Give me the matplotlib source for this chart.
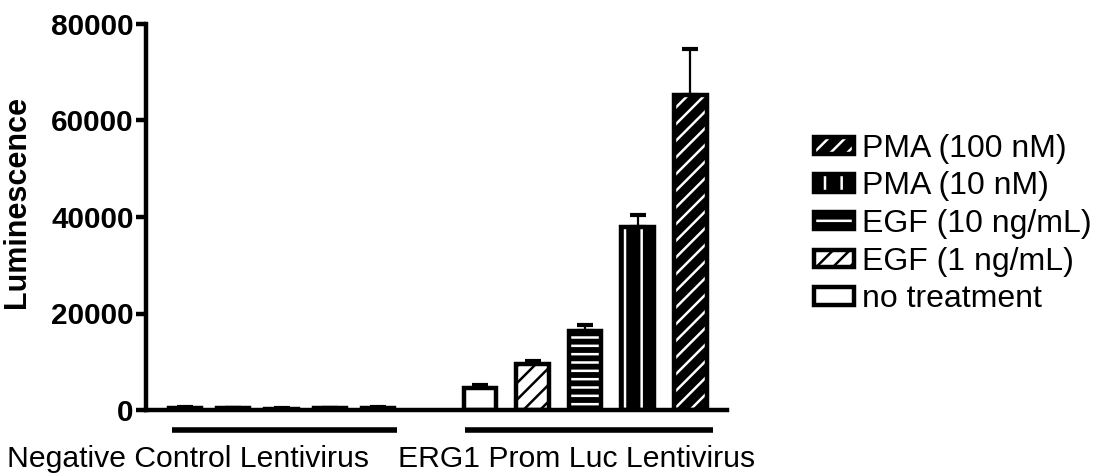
import numpy as np
import matplotlib
matplotlib.use("Agg")
import matplotlib.pyplot as plt
import matplotlib.transforms as mtransforms

plt.rcParams["font.family"] = ["Liberation Sans", "DejaVu Sans"]
plt.rcParams["hatch.linewidth"] = 1.8

treatments = ["no treatment", "EGF (1 ng/mL)", "EGF (10 ng/mL)", "PMA (10 nM)", "PMA (100 nM)"]
groups = ["Negative Control Lentivirus", "ERG1 Prom Luc Lentivirus"]

neg_vals = [450, 380, 300, 350, 400]
neg_err = [150, 120, 100, 100, 120]
erg_vals = [4550, 9500, 16400, 37900, 65200]
erg_err = [650, 700, 1200, 2500, 9700]

# style per treatment: (face, hatch, hatch colour)
styles = [
    ("white", None, "black"),
    ("white", "//", "black"),
    ("black", "--", "white"),
    ("black", "|", "white"),
    ("black", "//", "white"),
]

neg_x = np.arange(5) * 0.92 + 0.38
erg_x = np.arange(5) + 6.0
width = 0.62

fig = plt.figure(figsize=(11.04, 4.74), dpi=100)
ax = fig.add_axes([146 / 1104, 1 - 410 / 474, 581 / 1104, 386 / 474])

handles = []
for i, (face, hatch, hcol) in enumerate(styles):
    xs = [neg_x[i], erg_x[i]]
    vals = [neg_vals[i], erg_vals[i]]
    errs = [neg_err[i], erg_err[i]]
    ax.errorbar(xs, vals, yerr=[[0, 0], errs], fmt="none", ecolor="black",
                elinewidth=1.6, capsize=6, capthick=3, zorder=1)
    ax.bar(xs, vals, width=width, color=face, edgecolor=hcol,
           hatch=hatch, linewidth=0, zorder=2)
    ax.bar(xs, vals, width=width, color="none", edgecolor="black",
           linewidth=3.2, zorder=3)
    h_bg = plt.Rectangle((0, 0), 1, 1, facecolor=face, edgecolor=hcol,
                         hatch=hatch, linewidth=0)
    h_out = plt.Rectangle((0, 0), 1, 1, facecolor="none", edgecolor="black",
                          linewidth=3.2)
    handles.append((h_bg, h_out))

ax.set_xlim(-0.36, 10.7)
ax.set_ylim(0, 80000)
ax.set_yticks([0, 20000, 40000, 60000, 80000])
ax.set_xticks([])
for lab in ax.get_yticklabels():
    lab.set_fontweight("bold")
ax.tick_params(axis="y", labelsize=21.4, length=7, width=3.2, pad=2)
ax.spines["top"].set_visible(False)
ax.spines["right"].set_visible(False)
ax.spines["left"].set_linewidth(3.2)
ax.spines["bottom"].set_linewidth(3.2)
ax.set_ylabel("Luminescence", fontsize=22, fontweight="bold")
ax.yaxis.set_label_coords(-0.196, 0.54)

# group underlines and labels
trans = mtransforms.blended_transform_factory(ax.transData, ax.transAxes)
ax.plot([0.13, 4.42], [-0.052, -0.052], color="black", lw=4, transform=trans,
        clip_on=False, solid_capstyle="butt")
ax.plot([5.71, 10.44], [-0.052, -0.052], color="black", lw=4, transform=trans,
        clip_on=False, solid_capstyle="butt")
ax.text(0.44, -0.128, groups[0], transform=trans, ha="center", va="center",
        fontsize=21.7)
ax.text(7.83, -0.128, groups[1], transform=trans, ha="center", va="center",
        fontsize=21.7)

fig.legend(handles[::-1], treatments[::-1], loc="center left",
           bbox_to_anchor=(801 / 1104, 1 - 224 / 474), frameon=False,
           fontsize=23, handlelength=1.25, handleheight=0.45,
           labelspacing=0.24, handletextpad=0.25, borderaxespad=0)

fig.savefig("out.png", dpi=100)
